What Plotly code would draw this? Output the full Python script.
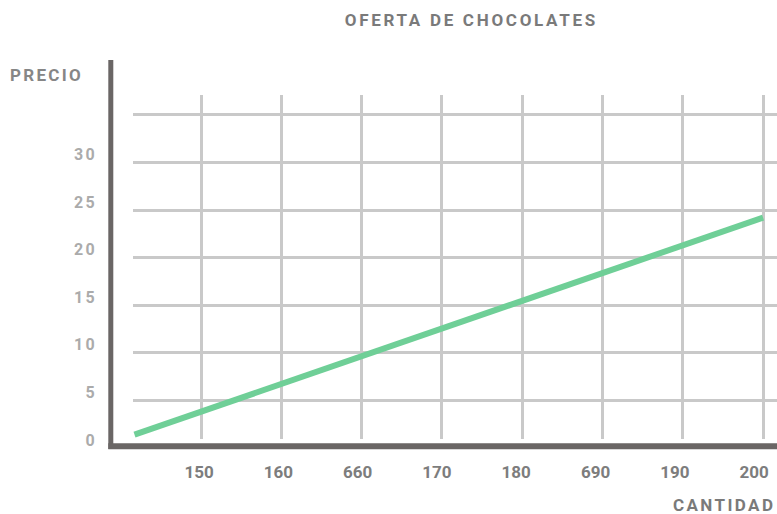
import plotly.graph_objects as go

# ---- data ----
categorias = ["150", "160", "660", "170", "180", "690", "190", "200"]
precio = [3.8, 6.7, 9.6, 12.5, 15.4, 18.3, 21.2, 24.2]
precio_inicio = 1.4          # value where the line begins, left of the first category
y_ticks = [0, 5, 10, 15, 20, 25, 30]
y_grid = [5, 10, 15, 20, 25, 30, 35]

# ---- layout geometry (pixels, measured in the 777x514 window) ----
W, H = 777, 514
PL, PT, PR, PB = 111, 60, 777, 448
PX_PER_UNIT = 9.52
CAT0_PX, CAT_STEP = 201, 80.3          # grid / data category spacing
LAB0_PX, LAB_STEP = 199, 79.3          # tick label spacing


def px_x(x):
    return (x - PL) / (PR - PL)


def px_y(y):
    return (PB - y) / (PB - PT)


def cat_at(px, c0, step):
    return 1 + (px - c0) / step


GRID_L, GRID_T, GRID_B = 133, 95, 439
inicio_pos = cat_at(134.5, CAT0_PX, CAT_STEP)
cat_pos = list(range(1, len(categorias) + 1))

AXIS_COL = "#6a6665"
GRID_COL = "#c9c9c9"
FONT = "Roboto"


def spaced(t, ls):
    return f'<span style="letter-spacing:{ls}px">{t}</span>'


fig = go.Figure()
# placeholder so the label axes are drawn
fig.add_trace(go.Scatter(x=[], y=[], xaxis="x", yaxis="y", showlegend=False, hoverinfo="skip"))
fig.add_trace(go.Scatter(
    x=[inicio_pos] + cat_pos,
    y=[precio_inicio] + precio,
    mode="lines",
    line=dict(color="#6fcf97", width=6),
    xaxis="x2", yaxis="y2",
    showlegend=False,
))

fig.update_layout(
    width=W, height=H, autosize=False,
    margin=dict(l=PL, r=W - PR, t=PT, b=H - PB, pad=0),
    paper_bgcolor="white", plot_bgcolor="rgba(0,0,0,0)",
    showlegend=False,
    title=dict(
        text=spaced("OFERTA DE CHOCOLATES", 2.7),
        font=dict(family=FONT, size=17, color="#7a7a7a", weight="bold"),
        xref="container", yref="container",
        x=471.3 / W, xanchor="center",
        y=1 - 20 / H, yanchor="middle",
    ),
    xaxis=dict(
        domain=[0, 1],
        range=[cat_at(PL, LAB0_PX, LAB_STEP), cat_at(PR, LAB0_PX, LAB_STEP)],
        tickvals=cat_pos,
        ticktext=categorias,
        showgrid=False, zeroline=False, showline=False, ticks="",
        tickfont=dict(family=FONT, size=17, color="#7d7d7d", weight="bold"),
        ticklabelstandoff=12,
        anchor="y", fixedrange=True,
    ),
    yaxis=dict(
        domain=[0, 1],
        range=[0, (PB - PT) / PX_PER_UNIT],
        tickvals=y_ticks,
        ticktext=[spaced(str(v), 2.3) for v in y_ticks],
        showgrid=False, zeroline=False, showline=False, ticks="",
        tickfont=dict(family=FONT, size=16, color="#ababab", weight="bold"),
        ticklabelshift=-8,
        ticklabelstandoff=13,
        anchor="x", fixedrange=True,
    ),
    xaxis2=dict(
        domain=[px_x(GRID_L), 1],
        range=[cat_at(GRID_L, CAT0_PX, CAT_STEP), cat_at(PR, CAT0_PX, CAT_STEP)],
        tickvals=cat_pos,
        showticklabels=False, ticks="",
        showgrid=True, gridcolor=GRID_COL, gridwidth=2.5,
        zeroline=False, showline=False,
        anchor="y2", fixedrange=True,
    ),
    yaxis2=dict(
        domain=[px_y(GRID_B), px_y(GRID_T)],
        range=[(PB - GRID_B) / PX_PER_UNIT, (PB - GRID_T) / PX_PER_UNIT],
        tickvals=y_grid,
        showticklabels=False, ticks="",
        showgrid=True, gridcolor=GRID_COL, gridwidth=2.5,
        zeroline=False, showline=False,
        anchor="x2", fixedrange=True,
    ),
    shapes=[
        dict(type="line", xref="paper", yref="paper",
             x0=px_x(110.8), x1=px_x(110.8), y0=px_y(449), y1=px_y(60),
             line=dict(color=AXIS_COL, width=5)),
        dict(type="line", xref="paper", yref="paper",
             x0=px_x(108.3), x1=1, y0=px_y(446.2), y1=px_y(446.2),
             line=dict(color=AXIS_COL, width=6)),
    ],
    annotations=[
        dict(text=spaced("PRECIO", 2.3), xref="paper", yref="paper",
             x=px_x(8.3), xanchor="left", y=px_y(74.7), yanchor="middle",
             showarrow=False,
             font=dict(family=FONT, size=17, color="#868686", weight="bold")),
        dict(text=spaced("CANTIDAD", 2.4), xref="paper", yref="paper",
             x=px_x(777), xanchor="right", y=px_y(505.2), yanchor="middle",
             showarrow=False,
             font=dict(family=FONT, size=17, color="#7a7a7a", weight="bold")),
    ],
)

fig.write_html(
    "out.html",
    config={"displayModeBar": False},
    post_script="document.body.style.margin='0';document.body.style.overflow='hidden';",
)
